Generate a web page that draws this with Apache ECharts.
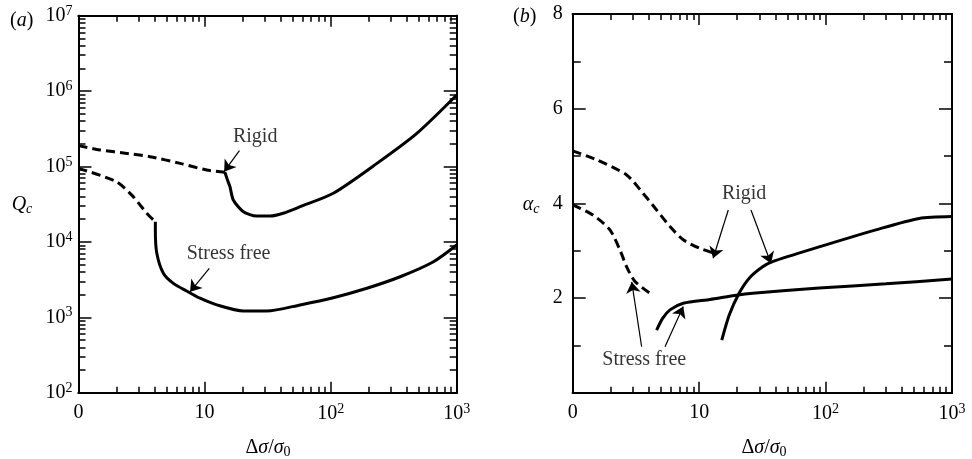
<!DOCTYPE html>
<html><head><meta charset="utf-8">
<script src="https://cdn.jsdelivr.net/npm/echarts@6/dist/echarts.min.js"></script>
<style>html,body{margin:0;padding:0;background:#fff}#c{width:972px;height:459px}</style>
</head><body><div id="c"></div>
<script>
// ---------- data ----------
// Panel (a): Q_c vs Δσ/σ0 (log-log)
const aRigidDashX = [1, 1.48, 2.5, 3.69, 6.4, 10.4, 14.5];
const aRigidDashY = [1.89e5, 1.66e5, 1.48e5, 1.35e5, 1.10e5, 8.97e4, 8.37e4];
const aRigidX = [14.5, 15.2, 15.9, 16.9, 20.3, 25.9, 33.1, 42, 57.3, 105, 233, 483, 1000];
const aRigidY = [8.37e4, 6.6e4, 5.4e4, 3.6e4, 2.51e4, 2.2e4, 2.2e4, 2.4e4, 2.93e4, 4.42e4, 1.10e5, 2.75e5, 8.87e5];
const aFreeDashX = [1, 2.0, 2.72, 3.48, 4.07];
const aFreeDashY = [9.46e4, 6.28e4, 3.98e4, 2.40e4, 1.85e4];
const aFreeX = [4.07, 4.07, 4.18, 4.71, 5.65, 7.22, 9.21, 12.5, 20.3, 31.2, 57.3, 105, 194, 356, 654, 1000];
const aFreeY = [1.85e4, 1.44e4, 7.06e3, 3.84e3, 2.82e3, 2.23e3, 1.79e3, 1.46e3, 1.21e3, 1.21e3, 1.46e3, 1.82e3, 2.43e3, 3.45e3, 5.46e3, 9.10e3];
// Panel (b): alpha_c vs Δσ/σ0
const bRigidDashX = [1, 1.55, 2.67, 3.61, 4.61, 5.88, 7.49, 10.1, 13.7];
const bRigidDashY = [5.11, 4.92, 4.60, 4.21, 3.86, 3.51, 3.23, 3.05, 2.93];
const bFreeDashX = [1, 1.455, 1.97, 2.37, 2.67, 3.11, 4.08];
const bFreeDashY = [3.97, 3.75, 3.44, 3.01, 2.66, 2.35, 2.10];
const bFreeX = [4.61, 5.14, 5.88, 7.49, 12.2, 19.8, 26.5, 89, 300, 1000];
const bFreeY = [1.32, 1.57, 1.75, 1.89, 1.97, 2.06, 2.10, 2.21, 2.30, 2.40];
const bRigidX = [15.1, 17.3, 20.7, 24.9, 31.8, 38.1, 89, 250, 550, 1000];
const bRigidY = [1.11, 1.64, 2.10, 2.42, 2.66, 2.77, 3.08, 3.44, 3.68, 3.72];

// ticks
const xMajor = [1, 10, 100, 1000];
const xMinor = [2,3,4,5,6,7,8,9,20,30,40,50,60,70,80,90,200,300,400,500,600,700,800,900];
const yMajorA = [1e2, 1e3, 1e4, 1e5, 1e6, 1e7];
const yMinorA = [];
[1e2,1e3,1e4,1e5,1e6].forEach(d => { for (let k = 2; k <= 9; k++) yMinorA.push(k*d); });
const xTickText = {0: '0', 1: '10', 2: '10{sup|2}', 3: '10{sup|3}'};
const yTickTextA = {2:'10{sup|2}',3:'10{sup|3}',4:'10{sup|4}',5:'10{sup|5}',6:'10{sup|6}',7:'10{sup|7}'};

// annotations: [text, x, y] and arrows [[x1,y1],[x2,y2]]
const aTexts = [['Rigid', 25.2, 2.48e5], ['Stress free', 15.5, 7.06e3]];
const aArrows = [[[18.9, 1.62e5], [14.3, 8.53e4]], [[10.9, 4.47e3], [7.67, 2.18e3]]];
const bTexts = [['Rigid', 22.7, 4.21], ['Stress free', 3.68, 0.69]];
const bArrows = [[[17.0, 3.86], [12.9, 2.84]], [[25.7, 3.86], [37.0, 2.73]],
                 [[3.51, 0.97], [2.93, 2.34]], [[5.37, 0.97], [7.49, 1.82]]];

// ---------- chart ----------
const FONT = 'Liberation Serif';
const zip = (xs, ys) => xs.map((x, i) => [x, ys[i]]);
const rich = {
  sup: {fontSize: 14, fontFamily: FONT, color: '#000', padding: [0, 0, 9, 0]},
  sub: {fontSize: 14, fontFamily: FONT, color: '#000', padding: [9, 0, 0, 0]},
  isub: {fontSize: 14, fontFamily: FONT, fontStyle: 'italic', color: '#000', padding: [9, 0, 0, 0]},
  i: {fontSize: 20, fontFamily: FONT, fontStyle: 'italic', color: '#000'},
  n: {fontSize: 20, fontFamily: FONT, color: '#000'}
};
const lineBase = {color: '#000', width: 2};
function axis(type, grid, pos, extra) {
  return Object.assign({
    type: type, gridIndex: grid, position: pos,
    axisLine: {show: true, onZero: false, lineStyle: lineBase},
    splitLine: {show: false},
    axisLabel: {show: false}
  }, extra);
}
function logX(grid, pos, ticks, len, labels) {
  return axis('log', grid, pos, {
    logBase: 10, min: 1, max: 1000,
    axisTick: {show: true, inside: true, length: len, customValues: ticks, lineStyle: {color: '#000', width: 1.5}},
    axisLabel: labels ? {
      show: true, customValues: xMajor, margin: 10, color: '#000', fontFamily: FONT, fontSize: 20, rich: rich,
      formatter: v => xTickText[Math.round(Math.log10(v))]
    } : {show: false}
  });
}
function logYA(pos, ticks, len, labels) {
  return axis('log', 0, pos, {
    logBase: 10, min: 100, max: 1e7,
    axisTick: {show: true, inside: true, length: len, customValues: ticks, lineStyle: {color: '#000', width: 1.5}},
    axisLabel: labels ? {
      show: true, customValues: yMajorA, margin: 6, color: '#000', fontFamily: FONT, fontSize: 20, rich: rich,
      formatter: v => yTickTextA[Math.round(Math.log10(v))]
    } : {show: false}
  });
}
function linYB(pos, labels) {
  return axis('value', 1, pos, {
    min: 0, max: 8, interval: 2,
    axisTick: {show: true, inside: true, length: 13, lineStyle: {color: '#000', width: 1.5}},
    minorTick: {show: true, splitNumber: 2, length: 8, lineStyle: {color: '#000', width: 1.5}},
    minorSplitLine: {show: false},
    axisLabel: labels ? {show: true, margin: 10, color: '#000', fontFamily: FONT, fontSize: 20,
      formatter: v => v === 0 ? '' : String(v)} : {show: false}
  });
}
function curve(xi, yi, xs, ys, dashed) {
  return {type: 'line', xAxisIndex: xi, yAxisIndex: yi, data: zip(xs, ys), showSymbol: false, symbol: 'none',
    smooth: 0.25, silent: true, animation: false,
    lineStyle: {color: '#000', width: 3, type: dashed ? [9, 5] : 'solid'}};
}
function texts(xi, yi, list) {
  return {type: 'scatter', xAxisIndex: xi, yAxisIndex: yi, symbolSize: 0, itemStyle: {color: '#000'},
    silent: true, animation: false,
    data: list.map(t => ({name: t[0], value: [t[1], t[2]]})),
    label: {show: true, position: 'inside', formatter: p => p.name, color: '#000', textBorderWidth: 0,
      fontFamily: FONT, fontSize: 20}};
}
function arrows(xi, yi, list) {
  return {type: 'lines', coordinateSystem: 'cartesian2d', xAxisIndex: xi, yAxisIndex: yi, silent: true, animation: false,
    symbol: ['none', 'arrow'], symbolSize: [7, 11],
    lineStyle: {color: '#000', width: 1.2, opacity: 1},
    data: list.map(a => ({coords: a}))};
}

const option = {
  backgroundColor: '#fff',
  animation: false,
  grid: [
    {left: 78.5, top: 15.7, width: 378.2, height: 377, containLabel: false},
    {left: 572.7, top: 14, width: 379.3, height: 378.7, containLabel: false}
  ],
  xAxis: [
    logX(0, 'bottom', xMajor, 11, true), logX(0, 'bottom', xMinor, 6, false),
    logX(0, 'top', xMajor, 11, false), logX(0, 'top', xMinor, 6, false),
    logX(1, 'bottom', xMajor, 11, true), logX(1, 'bottom', xMinor, 6, false),
    logX(1, 'top', xMajor, 11, false), logX(1, 'top', xMinor, 6, false)
  ],
  yAxis: [
    logYA('left', yMajorA, 13, true), logYA('left', yMinorA, 7, false),
    logYA('right', yMajorA, 13, false), logYA('right', yMinorA, 7, false),
    linYB('left', true), linYB('right', false)
  ],
  series: [
    curve(0, 0, aRigidDashX, aRigidDashY, true),
    curve(0, 0, aRigidX, aRigidY, false),
    curve(0, 0, aFreeDashX, aFreeDashY, true),
    curve(0, 0, aFreeX, aFreeY, false),
    curve(4, 4, bRigidDashX, bRigidDashY, true),
    curve(4, 4, bFreeDashX, bFreeDashY, true),
    curve(4, 4, bFreeX, bFreeY, false),
    curve(4, 4, bRigidX, bRigidY, false),
    texts(0, 0, aTexts), arrows(0, 0, aArrows),
    texts(4, 4, bTexts), arrows(4, 4, bArrows)
  ],
  graphic: [
    {type: 'text', x: 10, y: 21, style: {text: '{n|(}{i|a}{n|)}', rich: rich, align: 'left', verticalAlign: 'middle'}},
    {type: 'text', x: 513, y: 17, style: {text: '{n|(}{i|b}{n|)}', rich: rich, align: 'left', verticalAlign: 'middle'}},
    {type: 'text', x: 22, y: 205, style: {text: '{i|Q}{isub|c}', rich: rich, align: 'center', verticalAlign: 'middle'}},
    {type: 'text', x: 531, y: 205, style: {text: '{i|α}{isub|c}', rich: rich, align: 'center', verticalAlign: 'middle'}},
    {type: 'text', x: 268, y: 448, style: {text: '{n|Δ}{i|σ}{n|/}{i|σ}{sub|0}', rich: rich, align: 'center', verticalAlign: 'middle'}},
    {type: 'text', x: 764, y: 448, style: {text: '{n|Δ}{i|σ}{n|/}{i|σ}{sub|0}', rich: rich, align: 'center', verticalAlign: 'middle'}}
  ]
};
const chart = echarts.init(document.getElementById('c'), null, {renderer: 'canvas'});
chart.setOption(option);
</script></body></html>
